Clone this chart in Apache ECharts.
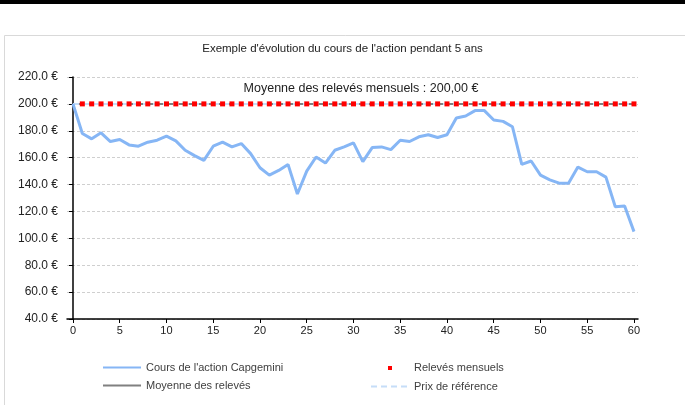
<!DOCTYPE html>
<html>
<head>
<meta charset="utf-8">
<script src="https://cdn.jsdelivr.net/npm/echarts@6/dist/echarts.min.js"></script>
<style>
html, body { margin: 0; padding: 0; background: #fff; }
#chart { width: 685px; height: 405px; }
</style>
</head>
<body>
<div id="chart"></div>
<script>
// mois 0..60
const months = [0,1,2,3,4,5,6,7,8,9,10,11,12,13,14,15,16,17,18,19,20,
    21,22,23,24,25,26,27,28,29,30,31,32,33,34,35,36,37,38,39,40,
    41,42,43,44,45,46,47,48,49,50,51,52,53,54,55,56,57,58,59,60];
const coursCapgemini = [200,178,174,178.5,172,173.5,169.5,168.5,171.5,173,176,
    172.5,165.5,161.5,158,168.5,171.5,168,170.5,163,152.5,
    147,150.5,155,133,150,160.5,156,165.5,168,171,
    157,167.5,168,166,173,172,175.5,177,175,177,
    189.5,191,195,195,188,187,183,155,157.5,147,
    143.5,141,141,153,149.5,149.5,145.5,123.5,124,105];
// relevés mensuels (mois 1 à 60)
const releves = [200,200,200,200,200,200,200,200,200,200,
    200,200,200,200,200,200,200,200,200,200,
    200,200,200,200,200,200,200,200,200,200,
    200,200,200,200,200,200,200,200,200,200,
    200,200,200,200,200,200,200,200,200,200,
    200,200,200,200,200,200,200,200,200,200];
const moyenneReleves = 200;
const prixReference = 200;
const xTicks = [0,5,10,15,20,25,30,35,40,45,50,55,60];
const yTicks = [40,60,80,100,120,140,160,180,200,220];

const firstMonth = months[0];
const lastMonth = months[months.length - 1];

const myChart = echarts.init(document.getElementById('chart'));
const option = {
    animation: false,
    textStyle: { fontFamily: 'Liberation Sans, Arial, sans-serif' },
    title: [
        {
            text: "Exemple d'évolution du cours de l'action pendant 5 ans",
            left: 'center',
            top: 38,
            textStyle: { fontSize: 11.5, fontWeight: 'normal', color: '#222' }
        },
        {
            text: 'Moyenne des relevés mensuels : 200,00 €',
            left: 356,
            textAlign: 'center',
            top: 77,
            textStyle: { fontSize: 12.5, fontWeight: 'normal', color: '#222' }
        }
    ],
    graphic: [
        { type: 'rect', shape: { x: 0, y: 0, width: 685, height: 4 }, style: { fill: '#000' } },
        { type: 'rect', shape: { x: 4.5, y: 35.5, width: 700, height: 400 },
          style: { fill: 'none', stroke: '#d9d9d9', lineWidth: 1 } }
    ],
    grid: { left: 67, right: 47, top: 77, bottom: 86 },
    legend: [
        {
            orient: 'vertical',
            left: 97,
            top: 357,
            itemWidth: 38,
            itemHeight: 12,
            itemGap: 7,
            textStyle: { fontSize: 11, color: '#404040' },
            data: [
                { name: "Cours de l'action Capgemini", itemStyle: { opacity: 0 } },
                { name: 'Moyenne des relevés', itemStyle: { opacity: 0 } }
            ]
        },
        {
            orient: 'vertical',
            left: 365,
            top: 357,
            itemWidth: 38,
            itemHeight: 12,
            itemGap: 7,
            textStyle: { fontSize: 11, color: '#404040' },
            data: [
                { name: 'Relevés mensuels', icon: 'path://M17,4 L21,4 L21,8 L17,8 Z M0,0 L0,0 M38,12 L38,12' },
                { name: 'Prix de référence', itemStyle: { opacity: 0 } }
            ]
        }
    ],
    xAxis: {
        type: 'value',
        min: -0.64,
        max: 60.43,
        splitLine: { show: false },
        axisLine: { onZero: false, lineStyle: { color: '#000', width: 1.5 } },
        axisTick: { length: 4, customValues: xTicks, lineStyle: { color: '#000' } },
        axisLabel: { customValues: xTicks, fontSize: 11, color: '#222', margin: 6 }
    },
    yAxis: {
        type: 'value',
        min: 40,
        max: 220,
        interval: 20,
        splitLine: { lineStyle: { color: '#cfcfcf', type: [3, 2] } },
        axisLine: { show: true, lineStyle: { color: '#000', width: 1.5 } },
        axisTick: { show: true, length: 4, lineStyle: { color: '#000' } },
        axisLabel: {
            fontSize: 12, color: '#222', margin: 9,
            formatter: function (v) { return v.toFixed(1) + ' €'; }
        }
    },
    series: [
        {
            name: 'Moyenne des relevés',
            type: 'line',
            symbol: 'none',
            color: '#808080',
            lineStyle: { color: '#808080', width: 2 },
            data: [[firstMonth, moyenneReleves], [lastMonth, moyenneReleves]],
            z: 2
        },
        {
            name: 'Prix de référence',
            type: 'line',
            symbol: 'none',
            color: '#c6ddf8',
            lineStyle: { color: '#c6ddf8', width: 2, type: [6, 4] },
            data: [[firstMonth, prixReference], [lastMonth, prixReference]],
            z: 3
        },
        {
            name: "Cours de l'action Capgemini",
            type: 'line',
            symbol: 'none',
            color: '#86b6f5',
            lineStyle: { color: '#86b6f5', width: 3 },
            data: months.map(function (m, i) { return [m, coursCapgemini[i]]; }),
            z: 4
        },
        {
            name: 'Relevés mensuels',
            type: 'line',
            symbol: 'rect',
            symbolSize: 5,
            showSymbol: true,
            color: '#ff0000',
            itemStyle: { color: '#ff0000' },
            lineStyle: { width: 0, opacity: 0 },
            data: releves.map(function (v, i) { return [months[i + 1], v]; }),
            z: 5
        }
    ]
};
myChart.setOption(option);
window.addEventListener('resize', function () { myChart.resize(); });
</script>
</body>
</html>
